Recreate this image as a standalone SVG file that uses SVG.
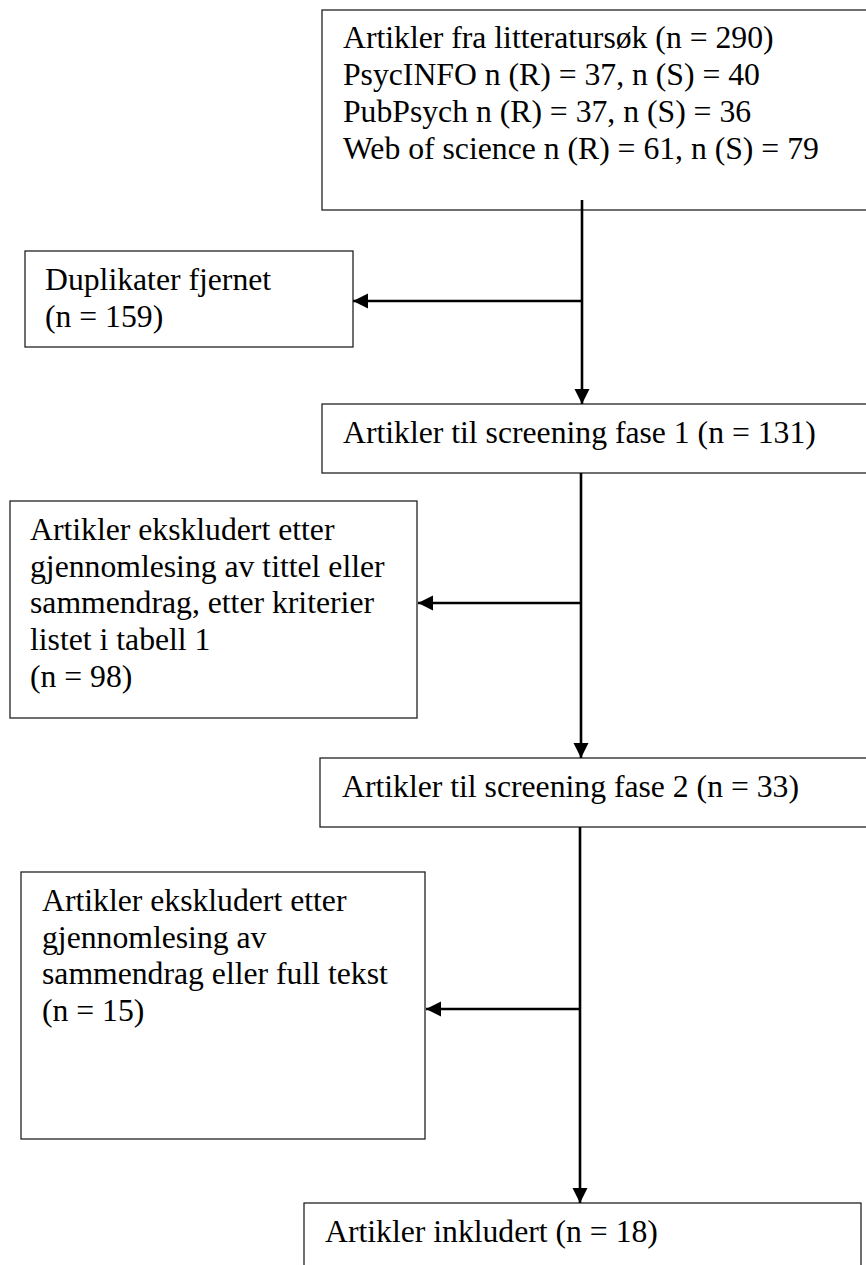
<svg xmlns="http://www.w3.org/2000/svg" width="866" height="1265" viewBox="0 0 866 1265">
<style>
.box{fill:#fff;stroke:#222;stroke-width:1.3}
.t{font-family:"Liberation Serif","Times New Roman",serif;font-size:31.7px;fill:#000}
.c{stroke:#000;stroke-width:2.6;fill:none}
</style>
<defs>
<marker id="ah" markerUnits="userSpaceOnUse" markerWidth="16" markerHeight="16" refX="15" refY="7.5" orient="auto">
<path d="M0,0 L15,7.5 L0,15 z" fill="#000"/>
</marker>
</defs>
<rect width="866" height="1265" fill="#fff"/>
<g id="n-search">
<rect class="box" x="322" y="10" width="560" height="200"/>
<text class="t" x="343" y="48">Artikler fra litteratursøk (n = 290)</text>
<text class="t" x="343" y="85">PsycINFO n (R) = 37, n (S) = 40</text>
<text class="t" x="343" y="122">PubPsych n (R) = 37, n (S) = 36</text>
<text class="t" x="343" y="159">Web of science n (R) = 61, n (S) = 79</text>
</g>
<g id="n-duplicates">
<rect class="box" x="25" y="251" width="328" height="96"/>
<text class="t" x="45" y="290">Duplikater fjernet</text>
<text class="t" x="45" y="327">(n = 159)</text>
</g>
<g id="n-screen1">
<rect class="box" x="322" y="404" width="560" height="69"/>
<text class="t" x="343" y="443">Artikler til screening fase 1 (n = 131)</text>
</g>
<g id="n-excl1">
<rect class="box" x="10" y="501" width="407" height="217"/>
<text class="t" x="30" y="540">Artikler ekskludert etter</text>
<text class="t" x="30" y="577">gjennomlesing av tittel eller</text>
<text class="t" x="30" y="613">sammendrag, etter kriterier</text>
<text class="t" x="30" y="650">listet i tabell 1</text>
<text class="t" x="30" y="687">(n = 98)</text>
</g>
<g id="n-screen2">
<rect class="box" x="320" y="758" width="562" height="69"/>
<text class="t" x="342" y="797">Artikler til screening fase 2 (n = 33)</text>
</g>
<g id="n-excl2">
<rect class="box" x="21" y="872" width="404" height="267"/>
<text class="t" x="42" y="911">Artikler ekskludert etter</text>
<text class="t" x="42" y="948">gjennomlesing av</text>
<text class="t" x="42" y="984">sammendrag eller full tekst</text>
<text class="t" x="42" y="1021">(n = 15)</text>
</g>
<g id="n-included">
<rect class="box" x="304" y="1203" width="557" height="80"/>
<text class="t" x="325" y="1242">Artikler inkludert (n = 18)</text>
</g>
<g id="connectors">
<line class="c" x1="582" y1="200" x2="582" y2="404" marker-end="url(#ah)"/>
<line class="c" x1="583" y1="301" x2="353" y2="301" marker-end="url(#ah)"/>
<line class="c" x1="581" y1="473" x2="581" y2="758" marker-end="url(#ah)"/>
<line class="c" x1="582" y1="603" x2="418" y2="603" marker-end="url(#ah)"/>
<line class="c" x1="580" y1="827" x2="580" y2="1203" marker-end="url(#ah)"/>
<line class="c" x1="581" y1="1009" x2="426" y2="1009" marker-end="url(#ah)"/>
</g>
</svg>
